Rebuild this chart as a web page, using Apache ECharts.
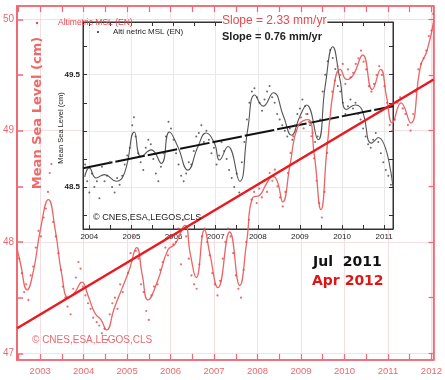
<!DOCTYPE html>
<html><head><meta charset="utf-8">
<script src="https://cdn.jsdelivr.net/npm/echarts@6/dist/echarts.min.js"></script>
<style>html,body{margin:0;padding:0;background:#fff}#c{width:445px;height:380px}</style>
</head><body><div id="c"></div>
<script>
// ---- main (red) chart data ----
const mainYears = [2003,2004,2005,2006,2007,2008,2009,2010,2011,2012];
const mainHalfYears = [2002.5,2003,2003.5,2004,2004.5,2005,2005.5,2006,2006.5,2007,2007.5,2008,2008.5,2009,2009.5,2010,2010.5,2011,2011.5,2012];
const mainYLabels = [47,48,49,50];
const mainYTicks = [47,47.5,48,48.5,49,49.5,50];
const redCurve = [
[2002.43,48.02],[2002.55,47.80],[2002.70,47.57],[2002.85,47.75],[2003.00,48.10],[2003.19,48.38],[2003.35,48.10],[2003.50,47.70],[2003.65,47.50],[2003.80,47.55],[2003.96,47.64],[2004.10,47.52],[2004.26,47.36],[2004.40,47.30],[2004.53,47.21],[2004.70,47.40],[2004.87,47.57],[2005.05,47.75],[2005.22,47.95],[2005.35,47.70],[2005.48,47.48],[2005.70,47.65],[2005.94,47.93],[2006.10,47.98],[2006.33,48.15],[2006.45,47.90],[2006.59,47.68],[2006.78,48.11],[2006.90,47.90],[2007.09,47.59],[2007.36,48.09],[2007.59,47.61],[2007.75,48.00],[2007.89,48.40],[2008.05,48.42],[2008.20,48.52],[2008.35,48.59],[2008.45,48.55],[2008.58,48.36],[2008.75,48.70],[2008.93,49.04],[2009.16,49.10],[2009.30,48.80],[2009.46,48.29],[2009.60,48.85],[2009.77,49.43],[2009.90,49.55],[2010.05,49.46],[2010.20,49.50],[2010.42,49.68],[2010.64,49.37],[2010.83,49.55],[2010.97,49.30],[2011.10,49.07],[2011.30,49.25],[2011.52,49.07],[2011.75,49.58],[2011.90,49.72],[2012.06,50.00]];
const redDots = [
[2002.45,48.05],[2002.52,47.85],[2002.58,47.72],[2002.63,47.55],[2002.68,47.62],[2002.73,47.48],[2002.78,47.70],[2002.84,47.78],[2002.90,47.95],[2002.96,48.10],[2003.02,48.05],[2003.08,48.22],[2003.13,48.30],[2003.18,48.45],[2003.22,48.62],[2003.26,48.70],[2003.30,48.18],[2003.36,48.05],[2003.42,47.90],[2003.48,47.75],[2003.52,47.60],[2003.58,47.50],[2003.63,47.42],[2003.70,47.35],[2003.76,47.58],[2003.82,47.68],[2003.88,47.82],[2003.93,47.76],[2003.98,47.60],[2004.04,47.52],[2004.10,47.45],[2004.16,47.40],[2004.22,47.32],[2004.30,47.28],[2004.36,47.25],[2004.42,47.18],[2004.48,47.22],[2004.55,47.12],[2004.60,47.35],[2004.66,47.45],[2004.72,47.50],[2004.78,47.40],[2004.84,47.62],[2004.90,47.55],[2004.96,47.80],[2005.02,47.72],[2005.08,47.90],[2005.14,48.05],[2005.20,47.92],[2005.26,47.85],[2005.32,47.62],[2005.38,47.55],[2005.44,47.38],[2005.50,47.30],[2005.56,47.52],[2005.62,47.60],[2005.70,47.62],[2005.76,47.75],[2005.82,47.82],[2005.88,47.95],[2005.94,47.88],[2006.00,48.05],[2006.06,47.98],[2006.12,48.00],[2006.18,48.12],[2006.24,47.80],[2006.30,48.20],[2006.36,48.05],[2006.42,47.85],[2006.48,47.70],[2006.54,47.62],[2006.60,47.58],[2006.66,47.80],[2006.72,48.05],[2006.78,48.12],[2006.84,48.00],[2006.90,47.88],[2006.96,47.72],[2007.02,47.62],[2007.08,47.52],[2007.14,47.65],[2007.20,47.85],[2007.26,48.00],[2007.32,48.12],[2007.38,48.05],[2007.44,47.90],[2007.50,47.70],[2007.56,47.58],[2007.62,47.50],[2007.68,47.75],[2007.74,48.00],[2007.80,48.20],[2007.86,48.38],[2007.92,48.45],[2007.98,48.35],[2008.04,48.48],[2008.10,48.40],[2008.16,48.55],[2008.22,48.45],[2008.28,48.62],[2008.34,48.55],[2008.40,48.65],[2008.46,48.50],[2008.52,48.40],[2008.58,48.32],[2008.64,48.45],[2008.70,48.62],[2008.76,48.80],[2008.82,48.95],[2008.88,49.00],[2008.94,49.05],[2009.00,49.12],[2009.06,49.02],[2009.12,49.15],[2009.18,49.08],[2009.24,48.95],[2009.30,48.75],[2009.36,48.55],[2009.42,48.35],[2009.48,48.22],[2009.54,48.45],[2009.60,48.80],[2009.66,49.10],[2009.72,49.35],[2009.78,49.45],[2009.84,49.58],[2009.90,49.50],[2009.96,49.60],[2010.02,49.42],[2010.08,49.55],[2010.14,49.48],[2010.20,49.52],[2010.26,49.60],[2010.32,49.65],[2010.38,49.72],[2010.44,49.62],[2010.50,49.55],[2010.56,49.40],[2010.62,49.35],[2010.68,49.42],[2010.74,49.50],[2010.80,49.58],[2010.86,49.50],[2010.92,49.40],[2010.98,49.25],[2011.04,49.05],[2011.10,49.00],[2011.16,49.10],[2011.22,49.25],[2011.28,49.30],[2011.34,49.20],[2011.40,49.15],[2011.46,49.05],[2011.52,49.00],[2011.58,49.15],[2011.64,49.35],[2011.70,49.55],[2011.76,49.60],[2011.82,49.65],[2011.88,49.72],[2011.94,49.85],[2012.00,49.90],[2012.04,50.05]];
const redTrend = [[2002.47,47.225],[2012.05,49.46]];

// ---- inset (black) chart data ----
const insetYears = [2004,2005,2006,2007,2008,2009,2010,2011];
const insetHalfYears = [2004,2004.5,2005,2005.5,2006,2006.5,2007,2007.5,2008,2008.5,2009,2009.5,2010,2010.5,2011];
const insetYLabels = [48.5,49.5];
const insetYTicks = [48.25,48.5,48.75,49,49.25,49.5,49.75];
const insetYGrid = [48.5,49,49.5];
const blackCurve = [
[2003.89,48.59],[2004.00,48.67],[2004.16,48.58],[2004.36,48.61],[2004.64,48.55],[2004.84,48.63],[2005.07,48.99],[2005.23,48.77],[2005.47,48.83],[2005.71,48.71],[2005.90,48.99],[2006.10,48.86],[2006.34,48.65],[2006.58,48.86],[2006.77,48.98],[2006.97,48.89],[2007.09,48.74],[2007.29,48.86],[2007.57,48.55],[2007.76,49.01],[2007.93,49.32],[2008.13,49.22],[2008.37,49.34],[2008.61,49.13],[2008.80,48.96],[2009.00,49.13],[2009.16,49.23],[2009.43,48.92],[2009.60,49.40],[2009.78,49.75],[2009.95,49.46],[2010.11,49.19],[2010.31,49.23],[2010.47,49.19],[2010.70,48.89],[2010.86,48.94],[2011.21,48.50]];
const blackDots = [
[2003.90,48.70],[2003.95,48.55],[2004.00,48.45],[2004.06,48.62],[2004.12,48.50],[2004.18,48.55],[2004.24,48.40],[2004.30,48.68],[2004.36,48.55],[2004.42,48.60],[2004.48,48.72],[2004.54,48.50],[2004.60,48.45],[2004.66,48.58],[2004.72,48.52],[2004.78,48.60],[2004.84,48.70],[2004.90,48.78],[2004.96,48.85],[2005.02,49.05],[2005.06,49.12],[2005.10,48.95],[2005.16,48.80],[2005.22,48.72],[2005.28,48.65],[2005.34,48.85],[2005.40,48.92],[2005.46,48.88],[2005.52,48.75],[2005.58,48.62],[2005.64,48.55],[2005.70,48.68],[2005.76,48.80],[2005.82,48.95],[2005.88,49.08],[2005.94,49.02],[2006.00,48.92],[2006.06,48.80],[2006.12,48.70],[2006.18,48.60],[2006.24,48.55],[2006.30,48.62],[2006.36,48.72],[2006.42,48.70],[2006.48,48.82],[2006.54,48.95],[2006.60,48.98],[2006.66,49.05],[2006.72,48.90],[2006.78,49.00],[2006.84,48.92],[2006.90,48.80],[2006.96,48.85],[2007.02,48.70],[2007.08,48.78],[2007.14,48.90],[2007.20,48.82],[2007.26,48.75],[2007.32,48.65],[2007.38,48.58],[2007.44,48.50],[2007.50,48.62],[2007.56,48.45],[2007.62,48.72],[2007.68,48.90],[2007.74,49.10],[2007.80,49.25],[2007.86,49.35],[2007.92,49.38],[2007.98,49.30],[2008.04,49.25],[2008.10,49.18],[2008.16,49.28],[2008.22,49.35],[2008.28,49.40],[2008.34,49.30],[2008.40,49.25],[2008.46,49.15],[2008.52,49.10],[2008.58,49.05],[2008.64,49.00],[2008.70,48.95],[2008.76,49.02],[2008.82,48.92],[2008.88,49.05],[2008.94,49.15],[2009.00,49.20],[2009.06,49.28],[2009.12,49.22],[2009.18,49.15],[2009.24,49.05],[2009.30,48.98],[2009.36,48.90],[2009.42,48.95],[2009.48,49.10],[2009.54,49.35],[2009.60,49.50],[2009.66,49.62],[2009.72,49.72],[2009.78,49.65],[2009.84,49.55],[2009.90,49.40],[2009.96,49.35],[2010.02,49.25],[2010.08,49.15],[2010.14,49.22],[2010.20,49.28],[2010.26,49.20],[2010.32,49.25],[2010.38,49.15],[2010.44,49.10],[2010.50,49.02],[2010.56,48.95],[2010.62,48.88],[2010.68,48.85],[2010.74,48.92],[2010.80,48.98],[2010.86,48.90],[2010.92,48.80],[2010.98,48.72],[2011.04,48.65],[2011.10,48.60],[2011.16,48.52]];
const blackTrend = [[2003.85,48.667],[2011.21,49.22]];

const RED = '#e8484f', RED_AXIS = '#ef6a74', RED_CURVE = '#ec6464', RED_TREND = '#e8191f';
const F = 'Liberation Sans, Arial, sans-serif';

const chart = echarts.init(document.getElementById('c'), null, {renderer:'canvas'});
const mainX = {min:2002.47, max:2012.05};
const mainY = {min:46.94, max:50.12};
const inX = {min:2003.85, max:2011.21};
const inY = {min:48.125, max:49.97};
const yearFmt = v => String(Math.round(v));

function ax(base, extra){ return Object.assign({type:'value', scale:true}, base, extra); }

chart.setOption({
  animation:false,
  backgroundColor:'#fff',
  grid:[
    {left:17, top:6, width:417, height:354, z:0, show:true, backgroundColor:'rgba(0,0,0,0)', borderColor:RED_AXIS, borderWidth:1.5},
    {left:83, top:22, width:310, height:207, show:true, backgroundColor:'#fff', borderColor:'#333', borderWidth:1, z:1}
  ],
  xAxis:[
    ax(mainX,{gridIndex:0, position:'bottom', z:1,
      axisLine:{lineStyle:{color:RED_AXIS,width:1.5}},
      axisTick:{inside:true,length:6,customValues:mainHalfYears,lineStyle:{color:RED_AXIS,width:1.2}},
      axisLabel:{customValues:mainYears,formatter:yearFmt,color:'#e86a70',fontSize:9.5,fontFamily:F,margin:6},
      splitLine:{show:false}}),
    ax(mainX,{gridIndex:0, position:'top', z:1,
      axisLine:{lineStyle:{color:RED_AXIS,width:1.5}},
      axisTick:{inside:true,length:6,customValues:mainHalfYears,lineStyle:{color:RED_AXIS,width:1.2}},
      axisLabel:{show:false}, splitLine:{show:false}}),
    ax(mainX,{gridIndex:0, position:'bottom', z:0,
      axisLine:{show:false}, axisTick:{show:false,customValues:mainYears}, axisLabel:{show:false},
      splitLine:{show:true,lineStyle:{color:'#f4e0e0',width:1}}}),
    ax(inX,{gridIndex:1, position:'bottom', z:2,
      axisLine:{lineStyle:{color:'#333',width:1}},
      axisTick:{inside:true,length:4,customValues:insetHalfYears,lineStyle:{color:'#333'}},
      axisLabel:{customValues:insetYears,formatter:yearFmt,color:'#222',fontSize:8,fontFamily:F,margin:4},
      splitLine:{show:false}}),
    ax(inX,{gridIndex:1, position:'top', z:2,
      axisLine:{lineStyle:{color:'#333',width:1}},
      axisTick:{inside:true,length:4,customValues:insetHalfYears,lineStyle:{color:'#333'}},
      axisLabel:{show:false}, splitLine:{show:false}}),
    ax(inX,{gridIndex:1, position:'bottom', z:1.5,
      axisLine:{show:false}, axisTick:{show:false,customValues:insetYears}, axisLabel:{show:false},
      splitLine:{show:true,lineStyle:{color:'#e8e8e8',width:1}}})
  ],
  yAxis:[
    ax(mainY,{gridIndex:0, position:'left', z:1,
      axisLine:{lineStyle:{color:RED_AXIS,width:2}},
      axisTick:{inside:true,length:6,customValues:mainYTicks,lineStyle:{color:RED_AXIS,width:1.5}},
      axisLabel:{customValues:mainYLabels,color:'#e86a70',fontSize:10,fontFamily:F,margin:3},
      splitLine:{show:false}}),
    ax(mainY,{gridIndex:0, position:'right', z:1,
      axisLine:{lineStyle:{color:RED_AXIS,width:1.5}},
      axisTick:{inside:true,length:5,customValues:mainYTicks,lineStyle:{color:RED_AXIS,width:1.2}},
      axisLabel:{show:false}, splitLine:{show:false}}),
    ax(mainY,{gridIndex:0, position:'left', z:0,
      axisLine:{show:false}, axisTick:{show:false,customValues:mainYLabels}, axisLabel:{show:false},
      splitLine:{show:true,lineStyle:{color:'#f4e0e0',width:1}}}),
    ax(inY,{gridIndex:1, position:'left', z:2,
      axisLine:{lineStyle:{color:'#333',width:1}},
      axisTick:{inside:true,length:4,customValues:insetYTicks,lineStyle:{color:'#333'}},
      axisLabel:{customValues:insetYLabels,color:'#222',fontSize:8,fontWeight:'bold',fontFamily:F,margin:3,
        formatter:v=>Number(v).toFixed(1)},
      splitLine:{show:false}}),
    ax(inY,{gridIndex:1, position:'right', z:2,
      axisLine:{lineStyle:{color:'#333',width:1}},
      axisTick:{inside:true,length:4,customValues:insetYTicks,lineStyle:{color:'#333'}},
      axisLabel:{show:false}, splitLine:{show:false}}),
    ax(inY,{gridIndex:1, position:'left', z:1.5,
      axisLine:{show:false}, axisTick:{show:false,customValues:insetYGrid}, axisLabel:{show:false},
      splitLine:{show:true,lineStyle:{color:'#e8e8e8',width:1}}})
  ],
  series:[
    {type:'scatter', xAxisIndex:3, yAxisIndex:3, data:blackDots, symbolSize:2, itemStyle:{color:'#444'}, z:3, silent:true},
    {type:'line', xAxisIndex:3, yAxisIndex:3, data:blackCurve, smooth:0.5, showSymbol:false, lineStyle:{color:'#555',width:1.1}, z:3},
    {type:'line', xAxisIndex:3, yAxisIndex:3, data:blackTrend, showSymbol:false, lineStyle:{color:'#111',width:2,type:[30,3]}, z:3},
    {type:'scatter', xAxisIndex:0, yAxisIndex:0, data:redDots, symbolSize:2.2, itemStyle:{color:'#e34a4a'}, z:5, silent:true},
    {type:'line', xAxisIndex:0, yAxisIndex:0, data:redCurve, smooth:0.5, showSymbol:false, lineStyle:{color:RED_CURVE,width:1.3}, z:5},
    {type:'line', xAxisIndex:0, yAxisIndex:0, data:redTrend, showSymbol:false, lineStyle:{color:RED_TREND,width:2.5}, z:6}
  ],
  graphic:[
    {type:'circle', shape:{cx:37,cy:23,r:1.2}, style:{fill:RED}, z:20},
    {type:'text', x:58, y:23, style:{text:'Altimetric MSL (EN)', fill:RED, font:'8.5px '+F, textVerticalAlign:'middle'}, z:20},
    {type:'circle', shape:{cx:98,cy:32,r:1.1}, style:{fill:'#333'}, z:20},
    {type:'text', x:113, y:32, style:{text:'Alti netric MSL (EN)', fill:'#222', font:'8px '+F, textVerticalAlign:'middle'}, z:20},
    {type:'text', x:222, y:21, style:{text:'Slope = 2.33 mm/yr', fill:RED, font:'12px '+F, textVerticalAlign:'middle', backgroundColor:'#fff', padding:[0,1,0,0]}, z:20},
    {type:'text', x:222, y:37, style:{text:'Slope = 0.76 mm/yr', fill:'#222', font:'bold 11px '+F, textVerticalAlign:'middle'}, z:20},
    {type:'text', x:38, y:113, rotation:Math.PI/2, style:{text:'Mean Sea Level (cm)', fill:'#ee6a6a', font:'bold 13px DejaVu Sans', textAlign:'center', textVerticalAlign:'middle'}, z:20},
    {type:'text', x:61, y:128, rotation:Math.PI/2, style:{text:'Mean Sea Level (cm)', fill:'#222', font:'7.5px '+F, textAlign:'center', textVerticalAlign:'middle'}, z:20},
    {type:'text', x:93, y:218, style:{text:'\u00a9 CNES,ESA,LEGOS,CLS', fill:'#222', font:'9px '+F, textVerticalAlign:'middle'}, z:20},
    {type:'text', x:32, y:340, style:{text:'\u00a9 CNES,ESA,LEGOS,CLS', fill:'#e86a70', font:'10px '+F, textVerticalAlign:'middle'}, z:20},
    {type:'text', x:313, y:262, style:{text:'Jul  2011', fill:'#111', font:'bold 14px DejaVu Sans', textVerticalAlign:'middle'}, z:20},
    {type:'text', x:312, y:281, style:{text:'Apr 2012', fill:'#e01515', font:'bold 14px DejaVu Sans', textVerticalAlign:'middle'}, z:20}
  ]
});
</script></body></html>
